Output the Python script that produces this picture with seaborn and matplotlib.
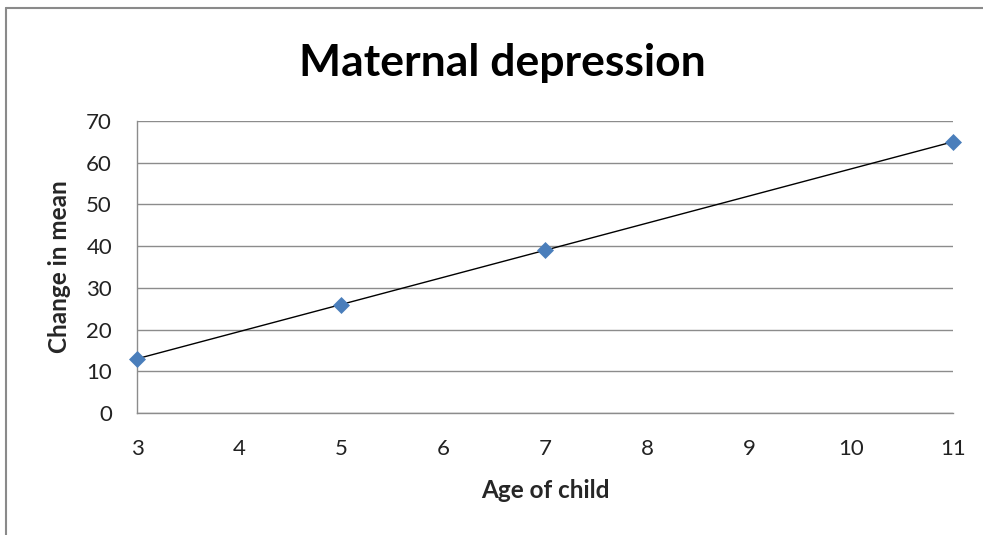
import matplotlib
matplotlib.use("Agg")
import matplotlib.pyplot as plt
from matplotlib.lines import Line2D
import seaborn as sns
import pandas as pd

# Child age and change in mean score
age = [3, 5, 7, 11]
change = [13, 26, 39, 65]
x_ticks = [3, 4, 5, 6, 7, 8, 9, 10, 11]
y_ticks = [0, 10, 20, 30, 40, 50, 60, 70]

df = pd.DataFrame({"age": age, "change": change})

sns.set_theme(style="white")
plt.rcParams["font.family"] = ["Lato", "DejaVu Sans"]

grid_col = "#8c8c8c"
fig = plt.figure(figsize=(9.83, 5.35), dpi=100)
ax = fig.add_axes([0.1394, 0.228, 0.8301, 0.546])

# Linear trendline over the data range
sns.regplot(data=df, x="age", y="change", ax=ax, scatter=False, ci=None,
            truncate=True, line_kws={"color": "black", "linewidth": 1.0})
sns.scatterplot(data=df, x="age", y="change", ax=ax, marker="D", s=75,
                color="#4a7ebb", edgecolor="#4a7ebb", linewidth=0, zorder=3,
                clip_on=False)

ax.set_xlim(3, 11)
ax.set_ylim(0, 70)
ax.set_xticks(x_ticks)
ax.set_yticks(y_ticks)
ax.tick_params(axis="both", length=0, labelsize=16, colors="#222222")
ax.tick_params(axis="x", pad=19)
ax.tick_params(axis="y", pad=18)
ax.yaxis.grid(True, color=grid_col, linewidth=1.0)
ax.set_axisbelow(True)
for side in ("top", "right"):
    ax.spines[side].set_visible(False)
for side in ("left", "bottom"):
    ax.spines[side].set_color(grid_col)
    ax.spines[side].set_linewidth(1.0)

ax.set_xlabel("Age of child", fontsize=17.5, fontweight="bold", labelpad=14)
ax.set_ylabel("Change in mean", fontsize=17.5, fontweight="bold", labelpad=11)
fig.text(0.511, 0.883, "Maternal depression", ha="center", va="center",
         fontsize=32, fontweight="bold", color="black")

# Chart area frame
fig.add_artist(Line2D([0.0056, 0.0056], [0.0, 0.985], transform=fig.transFigure,
                      color="#8a8a8a", linewidth=1.5))
fig.add_artist(Line2D([0.0056, 1.0], [0.985, 0.985], transform=fig.transFigure,
                      color="#8a8a8a", linewidth=1.5))

fig.savefig("out.png", dpi=100, facecolor="white")
